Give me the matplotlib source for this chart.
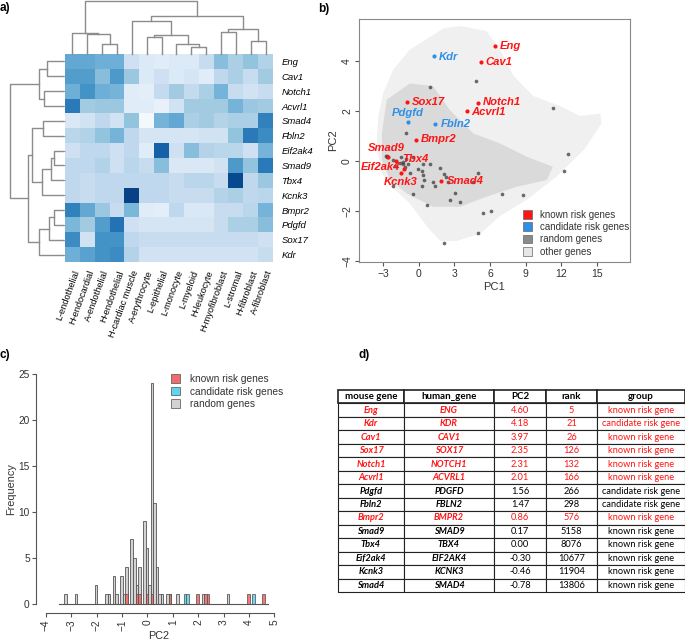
import numpy as np
import matplotlib
matplotlib.use('Agg')
import matplotlib.pyplot as plt
from matplotlib.patches import Polygon, Patch

plt.rcParams['font.family'] = ['Liberation Sans', 'DejaVu Sans']

# ---------------- data ----------------
# heatmap (a)
row_genes = ['Eng', 'Cav1', 'Notch1', 'Acvrl1', 'Smad4', 'Fbln2', 'Eif2ak4',
             'Smad9', 'Tbx4', 'Kcnk3', 'Bmpr2', 'Pdgfd', 'Sox17', 'Kdr']
cell_types = ['L-endothelial', 'H-endocardial', 'A-endothelial', 'H-endothelial',
              'H-cardiac muscle', 'A-erythrocyte', 'L-epithelial', 'L-monocyte',
              'L-myeloid', 'H-leukocyte', 'H-myofibroblast', 'L-stromal',
              'H-fibroblast', 'A-fibroblast']
heat = np.array([
    [0.55, 0.55, 0.52, 0.52, 0.22, 0.14, 0.12, 0.14, 0.14, 0.25, 0.45, 0.35, 0.42, 0.33],
    [0.60, 0.60, 0.45, 0.62, 0.40, 0.14, 0.22, 0.14, 0.18, 0.12, 0.28, 0.35, 0.25, 0.38],
    [0.52, 0.65, 0.52, 0.50, 0.12, 0.10, 0.27, 0.38, 0.27, 0.35, 0.50, 0.25, 0.20, 0.25],
    [0.75, 0.38, 0.40, 0.40, 0.12, 0.12, 0.08, 0.20, 0.38, 0.38, 0.38, 0.50, 0.40, 0.38],
    [0.15, 0.20, 0.28, 0.20, 0.42, 0.02, 0.50, 0.55, 0.35, 0.38, 0.32, 0.35, 0.35, 0.72],
    [0.30, 0.33, 0.42, 0.50, 0.28, 0.18, 0.18, 0.18, 0.18, 0.20, 0.20, 0.42, 0.75, 0.68],
    [0.22, 0.28, 0.28, 0.22, 0.28, 0.12, 0.85, 0.22, 0.45, 0.32, 0.30, 0.30, 0.22, 0.50],
    [0.28, 0.28, 0.33, 0.22, 0.30, 0.25, 0.45, 0.15, 0.15, 0.15, 0.20, 0.62, 0.42, 0.75],
    [0.28, 0.25, 0.28, 0.28, 0.28, 0.28, 0.28, 0.25, 0.30, 0.30, 0.25, 0.95, 0.28, 0.40],
    [0.28, 0.25, 0.28, 0.28, 0.98, 0.28, 0.28, 0.25, 0.25, 0.25, 0.32, 0.35, 0.28, 0.30],
    [0.72, 0.55, 0.40, 0.25, 0.48, 0.12, 0.10, 0.28, 0.15, 0.15, 0.25, 0.25, 0.30, 0.50],
    [0.48, 0.38, 0.60, 0.78, 0.22, 0.18, 0.18, 0.18, 0.18, 0.18, 0.25, 0.35, 0.35, 0.45],
    [0.68, 0.20, 0.65, 0.65, 0.28, 0.25, 0.25, 0.25, 0.25, 0.25, 0.25, 0.25, 0.25, 0.22],
    [0.52, 0.58, 0.65, 0.68, 0.32, 0.20, 0.20, 0.20, 0.20, 0.20, 0.20, 0.20, 0.20, 0.25],
])
# dendrogram merges: (left, right, height); new cluster ids start at 14
col_merges = [(2, 3, 30), (1, 14, 60), (0, 15, 63), (5, 6, 50), (8, 9, 22),
              (7, 18, 30), (17, 19, 57), (4, 20, 100), (10, 11, 65), (12, 13, 38),
              (22, 23, 75), (21, 24, 115), (16, 25, 160)]
row_merges = [(0, 1, 47), (2, 3, 57), (14, 15, 72), (4, 5, 60), (6, 7, 27),
              (18, 8, 37), (19, 9, 62), (17, 20, 93), (10, 11, 27), (22, 12, 42),
              (23, 13, 72), (21, 24, 107), (16, 25, 160)]

# table (d) / gene points
mouse_gene = ['Eng', 'Kdr', 'Cav1', 'Sox17', 'Notch1', 'Acvrl1', 'Pdgfd', 'Fbln2',
              'Bmpr2', 'Smad9', 'Tbx4', 'Eif2ak4', 'Kcnk3', 'Smad4']
pc2 = [4.60, 4.18, 3.97, 2.35, 2.31, 2.01, 1.56, 1.47, 0.86, 0.17, 0.00, -0.30, -0.46, -0.78]
rank = [5, 21, 26, 126, 132, 166, 266, 298, 576, 5158, 8076, 10677, 11904, 13806]
group = ['known risk gene', 'candidate risk gene', 'known risk gene', 'known risk gene',
         'known risk gene', 'known risk gene', 'candidate risk gene', 'candidate risk gene',
         'known risk gene', 'known risk gene', 'known risk gene', 'known risk gene',
         'known risk gene', 'known risk gene']
red_rows = ['Eng', 'Kdr', 'Cav1', 'Sox17', 'Notch1', 'Acvrl1', 'Bmpr2']

# scatter (b)
pc1 = [6.42, 1.29, 5.24, -0.95, 5.01, 4.03, -0.89, 1.41, -0.27, -2.58, -1.88, -1.23, -1.50, 1.92]
label_off = {'Pdgfd': (0, 6.5, 'center'), 'Smad9': (-1, 6.5, 'center'),
             'Eif2ak4': (-3, 1, 'right'), 'Kcnk3': (0, -6.5, 'center'),
             'Tbx4': (4, 1.5, 'left'), 'Notch1': (3.5, 1.2, 'left'),
             'Acvrl1': (3.5, -1.0, 'left')}
rand_pc1 = [4.82, 0.99, 11.34, -1.03, 12.56, 12.25, -2.77, -2.65, -2.7, -2.16, -1.6, -1.3,
            -1.08, -0.47, 0.37, 0.94, 1.78, 0.24, 0.37, -0.05, -0.75, 0.43, 1.22, 1.36,
            2.12, 2.26, 2.48, 5.02, 4.6, -0.47, 0.24, -2.2, 3.05, 6.99, 8.76, 2.63,
            3.47, 0.72, 5.38, 6.09, 4.96, 2.12, -1.17, -0.89, -1.45, -1.3, -2.0]
rand_pc2 = [3.18, 2.95, 2.11, 1.11, 0.28, -0.39, 0.2, 0.2, 0.15, 0.04, -0.09, -0.03,
            0.07, 0.17, -0.12, -0.12, -0.27, -0.39, -0.56, -0.32, -0.49, -0.76, -0.83, -0.99,
            -0.52, -0.63, -0.83, -0.49, -0.83, -1.3, -1.0, -0.99, -1.27, -1.3, -1.34, -1.56,
            -1.63, -1.74, -2.06, -1.99, -2.87, -3.26, -0.25, -0.12, 0.17, -0.1, -0.2]
cloud_outer = [(2.07, 5.3), (-0.75, 4.45), (-2.15, 3.65), (-3.0, 2.7), (-3.4, 1.8),
               (-3.55, 0.6), (-3.1, -0.5), (-2.3, -1.0), (-0.75, -1.7), (0.67, -2.6),
               (1.8, -3.2), (3.2, -3.2), (5.2, -2.9), (6.85, -2.2), (9.1, -1.55),
               (11.6, -0.63), (13.9, 0.44), (15.4, 1.5), (15.3, 1.9), (13.6, 1.8),
               (11.9, 2.2), (9.65, 2.6), (8.0, 3.4), (6.85, 4.45), (5.7, 5.2), (3.5, 5.4)]
cloud_inner = [(-2.7, 2.45), (-0.75, 3.1), (1.2, 3.0), (2.6, 2.05), (4.6, 1.1),
               (6.85, 0.7), (9.1, 0.17), (11.3, -0.23), (10.8, -0.76), (8.25, -1.03),
               (5.7, -1.43), (3.5, -1.83), (1.2, -1.83), (-1.0, -1.3), (-2.4, -0.76),
               (-3.1, 0.04), (-3.1, 1.1)]

# histogram (c): PC2 of random genes, bin centres
rand_hist_pc2 = ([-3.25] + [-2.85] + [-2.05] * 2 + [-1.65] + [-1.55] + [-1.35] * 3 + [-1.25]
                 + [-1.05] * 3 + [-0.95] + [-0.85] * 4 + [-0.65] * 7 + [-0.55] * 5
                 + [-0.45] * 2 + [-0.35] * 4 + [-0.15] * 9 + [-0.05] * 6 + [0.05] * 2
                 + [0.15] * 24 + [0.25] * 11 + [0.35] * 4 + [0.45] + [0.55] + [0.75]
                 + [0.85] + [1.15] + [2.15] + [3.15])

RED = '#ff1414'
BLUE = '#2e8fe6'
W, H = 685, 640


def rect(x0, y0, x1, y1):
    # pixel box (top-left origin) -> figure fraction
    return [x0 / W, 1 - y1 / H, (x1 - x0) / W, (y1 - y0) / H]


def dendro_segments(merges, n):
    pos = {i: float(i) for i in range(n)}
    hgt = {i: 0.0 for i in range(n)}
    segs = []
    for k, (a, b, h) in enumerate(merges):
        segs.append(([pos[a], pos[a], pos[b], pos[b]], [hgt[a], h, h, hgt[b]]))
        pos[n + k] = (pos[a] + pos[b]) / 2
        hgt[n + k] = h
    return segs


fig = plt.figure(figsize=(6.85, 6.4), dpi=100)

# ---------------- a) heatmap ----------------
axh = fig.add_axes(rect(65, 54, 273, 262))
axh.imshow(heat, cmap='Blues', vmin=0, vmax=1.05, aspect='auto')
axh.set_xticks(range(len(cell_types)))
axh.set_xticklabels(cell_types, rotation=70, ha='right', rotation_mode='anchor', fontsize=6.6)
axh.set_yticks(range(len(row_genes)))
axh.set_yticklabels(row_genes, fontsize=6.8, style='italic')
axh.tick_params(axis='y', left=True, right=False, labelleft=False, labelright=True,
                length=2, color='#999999', pad=4)
axh.tick_params(axis='x', top=True, bottom=False, labeltop=False, labelbottom=True,
                length=2, color='#999999', pad=3)
for s in axh.spines.values():
    s.set_visible(False)

axt = fig.add_axes(rect(65, 1, 273, 54))
for xs, ys in dendro_segments(col_merges, len(cell_types)):
    axt.plot(xs, ys, color='#8c8c8c', lw=1, clip_on=False)
axt.set_xlim(-0.5, len(cell_types) - 0.5)
axt.set_ylim(0, 160)
axt.axis('off')

axl = fig.add_axes(rect(10, 54, 63, 262))
for xs, ys in dendro_segments(row_merges, len(row_genes)):
    axl.plot(ys, xs, color='#8c8c8c', lw=1, clip_on=False)
axl.set_ylim(len(row_genes) - 0.5, -0.5)
axl.set_xlim(160, 0)
axl.axis('off')

# ---------------- b) PCA scatter ----------------
axs = fig.add_axes(rect(359, 19, 630, 262))
axs.add_patch(Polygon(cloud_outer, closed=True, facecolor='#f0f0f0', edgecolor='none'))
axs.add_patch(Polygon(cloud_inner, closed=True, facecolor='#dadada', edgecolor='none'))
axs.scatter(rand_pc1, rand_pc2, s=7, color='#3c3c3c', alpha=0.75, lw=0, zorder=3)
for g, x, y, grp in zip(mouse_gene, pc1, pc2, group):
    c = RED if grp.startswith('known') else BLUE
    axs.scatter([x], [y], s=9, color=c, lw=0, zorder=4)
    dx, dy, ha = label_off.get(g, (3.5, 0, 'left'))
    axs.annotate(g, (x, y), xytext=(dx, dy), textcoords='offset points', ha=ha,
                 va='center', color=c, fontsize=8.1, fontweight='bold', style='italic',
                 zorder=5)
axs.set_xlim(-5.03, 17.8)
axs.set_ylim(-4.04, 5.68)
axs.set_xticks(range(-3, 16, 3))
axs.set_yticks(range(-4, 5, 2))
axs.tick_params(labelsize=7.5, length=3, color='#555555', labelcolor='#333333', pad=2)
for lab in axs.get_yticklabels():
    lab.set_rotation(90)
    lab.set_va('center')
for s in axs.spines.values():
    s.set_color('#888888')
axs.set_xlabel('PC1', fontsize=8, color='#333333', labelpad=2)
axs.set_ylabel('PC2', fontsize=8, color='#333333', labelpad=3)
hs = [Patch(facecolor=c, edgecolor='#666666', lw=0.5)
      for c in [RED, BLUE, '#8a8a8a', '#e6e6e6']]
axs.legend(hs, ['known risk genes', 'candidate risk genes', 'random genes', 'other genes'],
           loc='lower right', frameon=False, fontsize=7.0, handlelength=1.0,
           handleheight=1.0, handletextpad=0.8, labelspacing=0.25,
           bbox_to_anchor=(1.03, -0.015), labelcolor='#333333')

# ---------------- c) histogram ----------------
axc = fig.add_axes(rect(36, 365, 282, 613))
bins = np.arange(-3.47, 4.8, 0.1)
known_pc2 = [v for v, g in zip(pc2, group) if g.startswith('known')]
cand_pc2 = [v for v, g in zip(pc2, group) if g.startswith('candidate')]
axc.hist(rand_hist_pc2, bins=bins, color='#d3d3d3', edgecolor='#555555', lw=0.6)
axc.hist(known_pc2, bins=bins, color='#f26a6a', alpha=0.9, edgecolor='#555555', lw=0.6)
axc.hist(cand_pc2, bins=bins, color='#5fd3f0', alpha=0.9, edgecolor='#555555', lw=0.6)
axc.plot([bins[0], bins[-1]], [0, 0], color='#555555', lw=0.8)
axc.set_xlim(-4.39, 5.3)
axc.set_ylim(-1.03, 26)
for side in ['top', 'right']:
    axc.spines[side].set_visible(False)
axc.spines['bottom'].set_bounds(-4, 5)
axc.spines['left'].set_bounds(0, 25)
for side in ['bottom', 'left']:
    axc.spines[side].set_color('#555555')
axc.set_xticks(range(-4, 6))
axc.set_yticks(range(0, 26, 5))
axc.tick_params(labelsize=7.3, length=3, color='#555555', labelcolor='#333333', pad=1.5)
for lab in axc.get_xticklabels():
    lab.set_rotation(90)
axc.set_xlabel('PC2', fontsize=7.8, color='#333333', labelpad=0)
axc.set_ylabel('Frequency', fontsize=7.8, color='#333333', labelpad=2)
hc = [Patch(facecolor=c, edgecolor='#666666', lw=0.6) for c in ['#f26a6a', '#5fd3f0', '#d3d3d3']]
axc.legend(hc, ['known risk genes', 'candidate risk genes', 'random genes'],
           loc='upper left', bbox_to_anchor=(0.51, 1.0), frameon=False, fontsize=7.3,
           handlelength=0.9, handleheight=0.9, handletextpad=1.0, labelspacing=0.25,
           labelcolor='#333333')

# ---------------- d) table ----------------
axd = fig.add_axes(rect(338, 390, 685, 592))
axd.axis('off')
human_gene = [g.upper() for g in mouse_gene]
cells = [[m, h, f'{v:.2f}', str(r), g]
         for m, h, v, r, g in zip(mouse_gene, human_gene, pc2, rank, group)]
tab = axd.table(cellText=cells, colLabels=['mouse gene', 'human_gene', 'PC2', 'rank', 'group'],
                colWidths=[66, 90, 52, 51, 88], bbox=[0, 0, 1, 1], cellLoc='center')
tab.auto_set_font_size(False)
for (r, c), cell in tab.get_celld().items():
    cell.set_linewidth(0.8)
    cell.set_edgecolor('#222222')
    t = cell.get_text()
    t.set_fontsize(6.7)
    t.set_fontfamily(['Lato', 'DejaVu Sans'])
    if r == 0:
        t.set_fontweight('bold')
        t.set_fontsize(7.0)
        cell.set_linewidth(1.2)
        continue
    gene = mouse_gene[r - 1]
    t.set_color(RED if gene in red_rows else 'black')
    if c < 2:
        t.set_fontweight('bold')
        t.set_fontstyle('italic')

# panel letters
for lab, x, y in [('a)', 0, 8), ('b)', 318, 9), ('c)', 0, 355), ('d)', 358, 355)]:
    fig.text(x / W, 1 - y / H, lab, fontsize=8.5, fontweight='bold', va='center', ha='left')

plt.savefig('out.png', dpi=100)
